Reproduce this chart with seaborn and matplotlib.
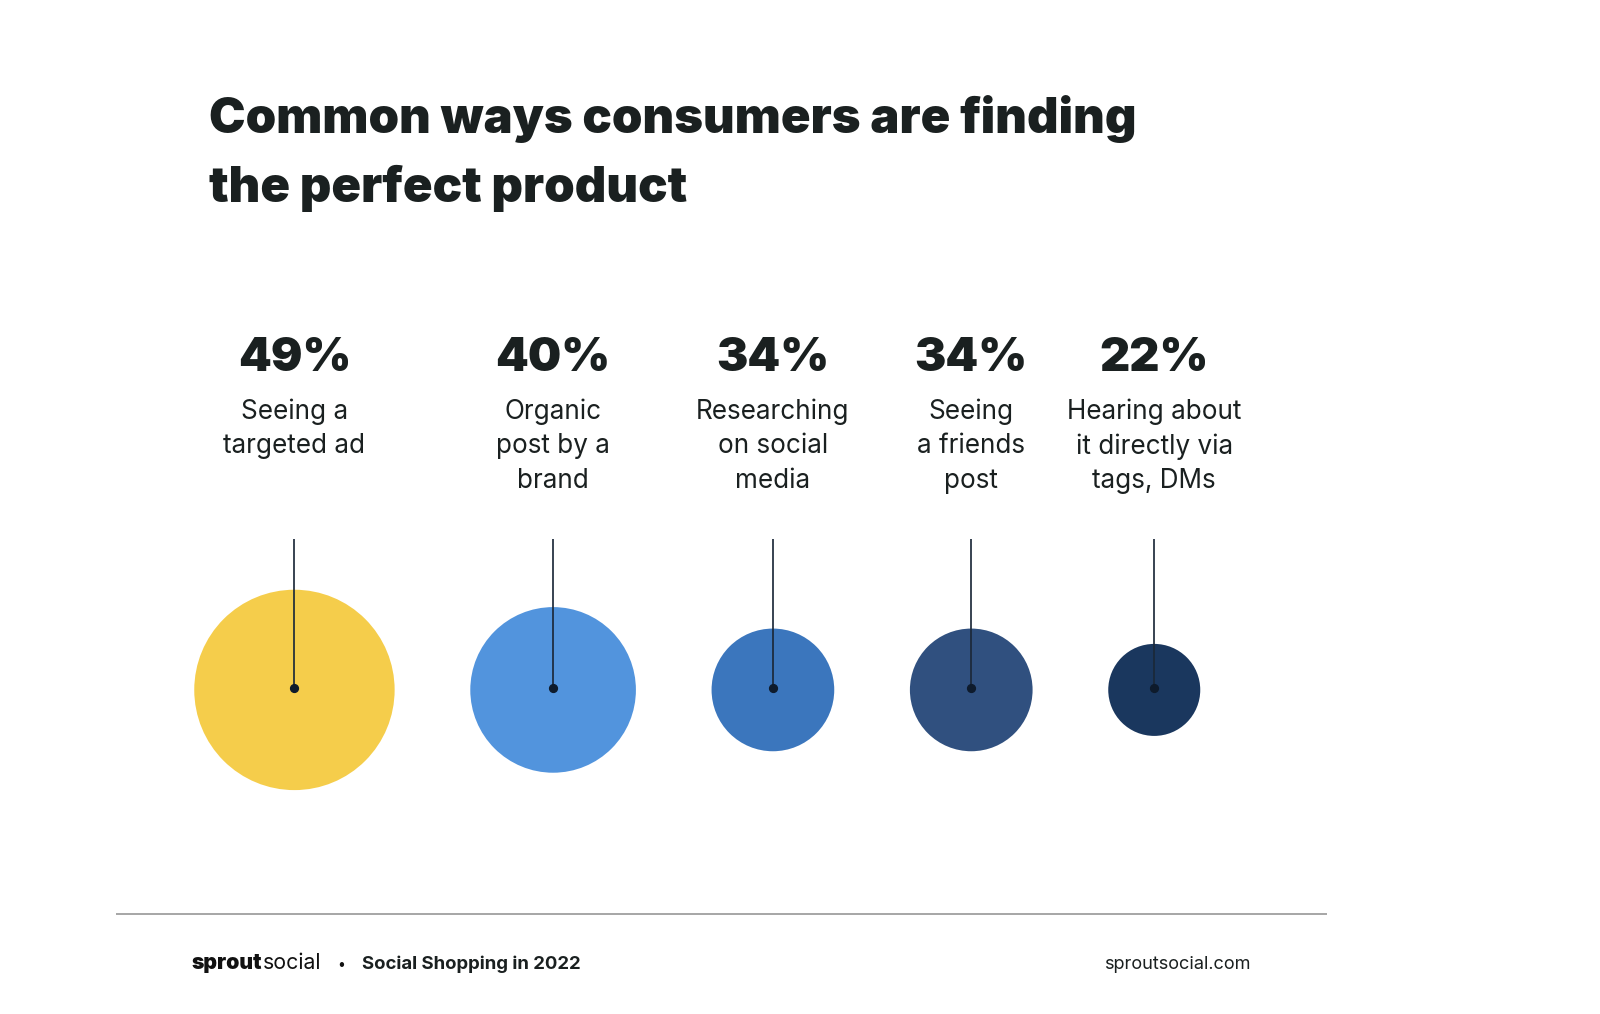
import matplotlib
matplotlib.use("Agg")
import matplotlib.pyplot as plt
import pandas as pd
import seaborn as sns

# data
labels = ["Seeing a\ntargeted ad", "Organic\npost by a\nbrand", "Researching\non social\nmedia",
          "Seeing\na friends\npost", "Hearing about\nit directly via\ntags, DMs"]
values = [49, 40, 34, 34, 22]
colors = ["#F5CD4B", "#5294DD", "#3B76BD", "#30507F", "#1A375E"]

title = "Common ways consumers are finding\nthe perfect product"
footer_report = "Social Shopping in 2022"
footer_url = "sproutsocial.com"

# layout in "canvas units" (canvas is 1565 x 992 units, saved at 1600 x 1014 px)
W, H = 1565, 992
DPI = 1600 / W * 100
radius = {49: 98, 40: 81, 34: 60, 22: 45}
first_left, gap, cy = 190, 74, 675
dark = "#1B2838"
txt = "#1A2020"

sns.set_theme(style="white")
plt.rcParams["font.family"] = ["Inter", "Lato", "DejaVu Sans"]

# circle centres: circles sit side by side with a fixed gap
cx = []
left = first_left
for v in values:
    r = radius[v]
    cx.append(left + r)
    left += 2 * r + gap

df = pd.DataFrame({"x": cx, "y": [cy] * len(values), "value": values, "label": labels})
u2pt = 0.72
sizes = {v: (2 * r * u2pt) ** 2 for v, r in radius.items()}

fig = plt.figure(figsize=(W / 100, H / 100), dpi=DPI)
ax = fig.add_axes([0, 0, 1, 1])
ax.set_xlim(0, W)
ax.set_ylim(H, 0)
ax.axis("off")

sns.scatterplot(data=df, x="x", y="y", hue="label", hue_order=labels, palette=colors,
                size="value", sizes=sizes, linewidth=0, legend=False, ax=ax, zorder=1)

ax.vlines(df["x"], 527, cy - 2, color=dark, lw=1.2, zorder=2)
ax.scatter(df["x"], [cy - 2] * len(df), s=30, color="#0E1B2C", zorder=3)

for x, v, lab in zip(df["x"], values, labels):
    ax.text(x, 351, f"{v}%", ha="center", va="center", fontsize=33, fontweight="black", color=txt)
    ax.text(x, 390, lab, ha="center", va="top", fontsize=18.4, color=txt, linespacing=1.41)

ax.text(204, 116, title.split("\n")[0], ha="left", va="center", fontsize=34.5, fontweight="black", color=txt)
ax.text(204, 184, title.split("\n")[1], ha="left", va="center", fontsize=34.5, fontweight="black", color=txt)

# footer
ax.hlines(894, 113, 1298, color="#9A9A9A", lw=1.2)
t1 = ax.text(187, 942, "sprout", ha="left", va="center", fontsize=15, fontweight="black", color="#111111")
fig.canvas.draw()
bb = t1.get_window_extent()
x_end = ax.transData.inverted().transform((bb.x1, bb.y0))[0]
ax.text(x_end + 1, 942, "social", ha="left", va="center", fontsize=15, fontweight="normal", color="#111111")
ax.text(334, 944, "•", ha="center", va="center", fontsize=10, color="#111111")
ax.text(354, 943, footer_report, ha="left", va="center", fontsize=13.1, fontweight="bold", color=txt)
ax.text(1223, 943, footer_url, ha="right", va="center", fontsize=12.8, color=txt)

fig.savefig("out.png", dpi=DPI, facecolor="white")
